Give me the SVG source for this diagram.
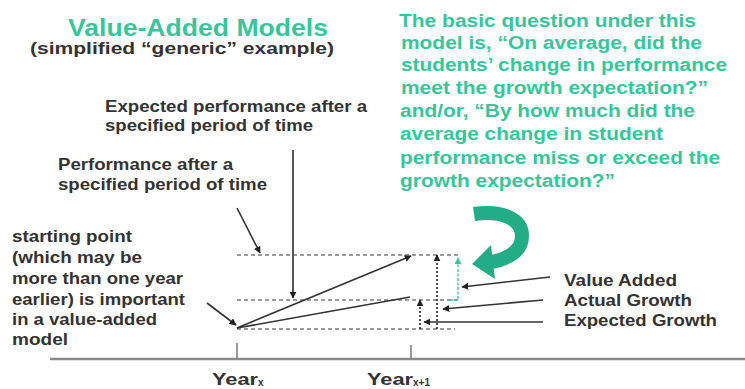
<svg xmlns="http://www.w3.org/2000/svg" width="745" height="389" viewBox="0 0 745 389">
<defs>
<style>
.t{font-family:"Liberation Sans",Arial,sans-serif;font-weight:bold}
.teal{fill:#35c79b}
.dk{fill:#333}
.dash{stroke:#9a9a9a;stroke-width:2;stroke-dasharray:4 3;fill:none}
.ar{stroke:#333;stroke-width:1.6;fill:none;marker-end:url(#ah)}
.dot{stroke:#222;stroke-width:1.6;stroke-dasharray:2 2;fill:none;marker-end:url(#ah)}
</style>
<marker id="ah" viewBox="0 0 10 10" refX="9" refY="5" markerWidth="7" markerHeight="7" orient="auto" markerUnits="userSpaceOnUse">
<path d="M0,0 L10,5 L0,10 z" fill="#222"/>
</marker>
<marker id="aht" viewBox="0 0 10 10" refX="9" refY="5" markerWidth="7" markerHeight="7" orient="auto" markerUnits="userSpaceOnUse">
<path d="M0,0 L10,5 L0,10 z" fill="#35c79b"/>
</marker>
</defs>
<rect width="745" height="389" fill="#fff"/>
<g id="title">
<text class="t teal" x="68" y="36" font-size="23" textLength="260" lengthAdjust="spacingAndGlyphs">Value-Added Models</text>
<text class="t dk" x="30" y="54" font-size="16.5" textLength="304" lengthAdjust="spacingAndGlyphs">(simplified “generic” example)</text>
</g>
<g id="question">
<text class="t teal" font-size="18" lengthAdjust="spacingAndGlyphs">
<tspan x="399" y="27" textLength="297" lengthAdjust="spacingAndGlyphs">The basic question under this</tspan>
<tspan x="401" y="49" textLength="301" lengthAdjust="spacingAndGlyphs">model is, “On average, did the</tspan>
<tspan x="401" y="71" textLength="326" lengthAdjust="spacingAndGlyphs">students’ change in performance</tspan>
<tspan x="401" y="94" textLength="307" lengthAdjust="spacingAndGlyphs">meet the growth expectation?”</tspan>
<tspan x="400" y="117" textLength="295" lengthAdjust="spacingAndGlyphs">and/or, “By how much did the</tspan>
<tspan x="400" y="140" textLength="263" lengthAdjust="spacingAndGlyphs">average change in student</tspan>
<tspan x="400" y="164" textLength="320" lengthAdjust="spacingAndGlyphs">performance miss or exceed the</tspan>
<tspan x="400" y="187" textLength="215" lengthAdjust="spacingAndGlyphs">growth expectation?”</tspan>
</text>
</g>
<g id="expected-label">
<text class="t dk" font-size="16"><tspan x="105" y="112" textLength="262" lengthAdjust="spacingAndGlyphs">Expected performance after a</tspan><tspan x="105" y="131" textLength="208" lengthAdjust="spacingAndGlyphs">specified period of time</tspan></text>
</g>
<g id="performance-label">
<text class="t dk" font-size="16"><tspan x="58" y="170" textLength="175" lengthAdjust="spacingAndGlyphs">Performance after a</tspan><tspan x="58" y="190" textLength="209" lengthAdjust="spacingAndGlyphs">specified period of time</tspan></text>
</g>
<g id="start-label">
<text class="t dk" font-size="16"><tspan x="12" y="242" textLength="120" lengthAdjust="spacingAndGlyphs">starting point</tspan><tspan x="12" y="263" textLength="130" lengthAdjust="spacingAndGlyphs">(which may be</tspan><tspan x="12" y="284" textLength="171" lengthAdjust="spacingAndGlyphs">more than one year</tspan><tspan x="12" y="305" textLength="173" lengthAdjust="spacingAndGlyphs">earlier) is important</tspan><tspan x="12" y="325" textLength="145" lengthAdjust="spacingAndGlyphs">in a value-added</tspan><tspan x="12" y="345" textLength="56" lengthAdjust="spacingAndGlyphs">model</tspan></text>
</g>
<g id="legend">
<text class="t dk" font-size="16.5"><tspan x="564" y="286" textLength="113" lengthAdjust="spacingAndGlyphs">Value Added</tspan><tspan x="564" y="306" textLength="128" lengthAdjust="spacingAndGlyphs">Actual Growth</tspan><tspan x="564" y="326" textLength="153" lengthAdjust="spacingAndGlyphs">Expected Growth</tspan></text>
</g>
<g id="axis">
<line x1="50" y1="359" x2="745" y2="359" stroke="#8a8a8a" stroke-width="2.5"/>
<line x1="237" y1="343" x2="237" y2="358" stroke="#777" stroke-width="1.5"/>
<line x1="411" y1="345" x2="411" y2="358" stroke="#777" stroke-width="1.5"/>
<text class="t dk" font-size="16" x="212" y="385"><tspan textLength="46" lengthAdjust="spacingAndGlyphs">Year</tspan><tspan font-size="10" dy="1">x</tspan></text>
<text class="t dk" font-size="16" x="367" y="385"><tspan textLength="46" lengthAdjust="spacingAndGlyphs">Year</tspan><tspan font-size="10" dy="1">x+1</tspan></text>
</g>
<g id="connectors">
<line class="dash" x1="237" y1="255" x2="460" y2="255"/>
<line class="dash" x1="237" y1="300" x2="460" y2="300"/>
<line class="dash" x1="237" y1="329" x2="455" y2="329"/>
<line x1="293" y1="150" x2="293" y2="298" stroke="#555" stroke-width="2" marker-end="url(#ah)"/>
<line class="ar" x1="237" y1="208" x2="260" y2="253"/>
<line class="ar" x1="207" y1="303" x2="236" y2="325"/>
<line class="ar" x1="237" y1="328" x2="411" y2="256"/>
<line x1="237" y1="328" x2="410" y2="297" stroke="#333" stroke-width="1.6"/>
<line class="dot" x1="420" y1="329" x2="420" y2="300"/>
<line class="dot" x1="437" y1="329" x2="437" y2="255"/>
<polyline points="450,300 458,300 458,258" fill="none" stroke="#35c79b" stroke-width="1.3" stroke-dasharray="3 1.5" marker-end="url(#aht)"/>
<line class="ar" x1="550" y1="277" x2="462" y2="287"/>
<line class="ar" x1="543" y1="300" x2="443" y2="309"/>
<line class="ar" x1="543" y1="322" x2="424" y2="322"/>
</g>
<g id="curved-arrow">
<path d="M474,214 C500,210 522,218 522,236 C522,250 510,258 492,262" fill="none" stroke="#22ad86" stroke-width="14"/>
<polygon points="472,264 491,245 495,279" fill="#22ad86"/>
</g>
</svg>
